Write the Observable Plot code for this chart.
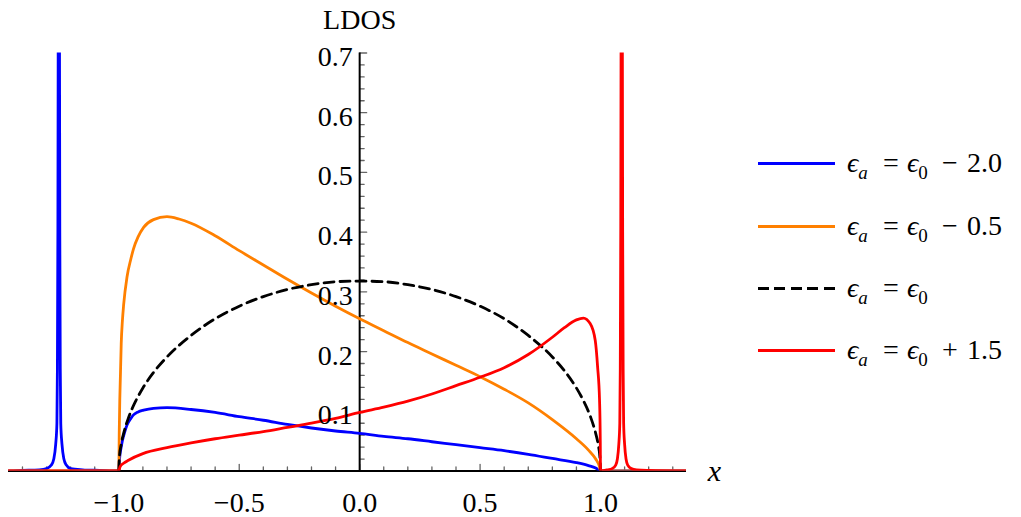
<!DOCTYPE html>
<html>
<head>
<meta charset="utf-8">
<script src="https://cdn.jsdelivr.net/npm/d3@7"></script>
<script src="https://cdn.jsdelivr.net/npm/@observablehq/plot@0.6"></script>
<style>
  html, body { margin: 0; padding: 0; background: white; }
  #wrap { position: relative; width: 1021px; height: 517px; }
  #legend { position: absolute; left: 0; top: 0; width: 1021px; height: 517px; pointer-events: none;
            font-family: "Liberation Serif", "DejaVu Serif", serif; font-size: 28px; color: black; }
  .row { position: absolute; left: 0; height: 30px; width: 1021px; white-space: nowrap; }
  .row > * { position: absolute; top: 0; line-height: 30px; }
  .swatch { left: 758px; top: 13.5px !important; width: 77px; height: 3px; }
  .row i { font-style: italic; }
  .row sub { font-size: 19px; vertical-align: -7px; line-height: 0; }
  svg text { font-family: "Liberation Serif", "DejaVu Serif", serif; }
</style>
</head>
<body>
<div id="wrap"><div id="chart"></div><div id="legend"></div></div>
<script>
// ---------- data ----------
const xDomain = [-1.458, 1.357];
const yDomain = [0, 0.7];

const xMajorTicks = [-1.0, -0.5, 0.0, 0.5, 1.0];
const xTickLabels = ["\u22121.0", "\u22120.5", "0.0", "0.5", "1.0"];
const xMinorTicks = [-1.4, -1.3, -1.2, -1.1, -0.9, -0.8, -0.7, -0.6, -0.4, -0.3, -0.2, -0.1,
                     0.1, 0.2, 0.3, 0.4, 0.6, 0.7, 0.8, 0.9, 1.1, 1.2, 1.3];
const yMajorTicks = [0.1, 0.2, 0.3, 0.4, 0.5, 0.6, 0.7];
const yTickLabels = ["0.1", "0.2", "0.3", "0.4", "0.5", "0.6", "0.7"];
const yMinorTicks = [0.02, 0.04, 0.06, 0.08, 0.12, 0.14, 0.16, 0.18, 0.22, 0.24, 0.26, 0.28,
                     0.32, 0.34, 0.36, 0.38, 0.42, 0.44, 0.46, 0.48, 0.52, 0.54, 0.56, 0.58,
                     0.62, 0.64, 0.66, 0.68];

// eps_a = eps_0 - 2.0 (blue)
const blueX = [-1.458, -1.40, -1.33, -1.30, -1.28, -1.27, -1.262, -1.257, -1.255, -1.253, -1.251, -1.249,
  -1.247, -1.245, -1.243, -1.241, -1.236, -1.228, -1.218, -1.20, -1.15, -1.08, -1.0,
  -0.998, -0.995, -0.99, -0.985, -0.975, -0.966, -0.95, -0.939, -0.92, -0.897, -0.856, -0.8,
  -0.7, -0.6, -0.5, -0.4, -0.3, -0.2, -0.1, 0.0, 0.1, 0.2, 0.3, 0.4, 0.5, 0.6, 0.7,
  0.8, 0.9, 0.95, 0.98, 1.0, 1.357];
const blueY = [0, 0.001, 0.002, 0.004, 0.010, 0.020, 0.045, 0.08, 0.17, 0.4, 0.9, 1.5,
  0.9, 0.4, 0.17, 0.08, 0.045, 0.020, 0.010, 0.004, 0.002, 0.001, 0,
  0.015, 0.028, 0.040, 0.051, 0.066, 0.077, 0.088, 0.094, 0.099, 0.102, 0.105, 0.106,
  0.103, 0.098, 0.091, 0.085, 0.078, 0.072, 0.067, 0.063, 0.058, 0.054, 0.049, 0.044, 0.039, 0.034, 0.028,
  0.021, 0.014, 0.009, 0.005, 0, 0];

// eps_a = eps_0 - 0.5 (orange)
const orangeX = [-1.458, -1.0, -0.998, -0.996, -0.993, -0.990, -0.985, -0.980, -0.966, -0.95, -0.939,
  -0.92, -0.897, -0.856, -0.80, -0.75, -0.7, -0.6, -0.5, -0.4, -0.3, -0.2, -0.1,
  0.0, 0.1, 0.2, 0.3, 0.4, 0.5, 0.6, 0.7, 0.8, 0.9, 0.95, 0.98, 0.995, 1.0, 1.357];
const orangeY = [0, 0, 0.07, 0.118, 0.165, 0.213, 0.252, 0.278, 0.325, 0.355, 0.372,
  0.392, 0.408, 0.421, 0.426, 0.422, 0.415, 0.394, 0.369, 0.345, 0.321, 0.298, 0.276,
  0.255, 0.235, 0.215, 0.196, 0.177, 0.158, 0.137, 0.114, 0.086, 0.054, 0.035, 0.020, 0.008, 0, 0];

// eps_a = eps_0 (black dashed)
const blackX = [-1.0, -0.998, -0.99, -0.98, -0.96, -0.93, -0.9, -0.85, -0.8, -0.7, -0.6, -0.5, -0.4,
  -0.3, -0.2, -0.1, 0.0, 0.1, 0.2, 0.3, 0.4, 0.5, 0.6, 0.7, 0.8, 0.85, 0.9, 0.93, 0.96, 0.98,
  0.99, 0.998, 1.0];
const blackY = [0, 0.020, 0.045, 0.063, 0.089, 0.117, 0.139, 0.168, 0.191, 0.227, 0.255, 0.276, 0.292,
  0.304, 0.312, 0.317, 0.318, 0.317, 0.312, 0.304, 0.292, 0.276, 0.255, 0.227, 0.191, 0.168, 0.139,
  0.117, 0.089, 0.063, 0.045, 0.020, 0];

// eps_a = eps_0 + 1.5 (red)
const redX = [-1.458, -1.0, -0.995, -0.98, -0.96, -0.9, -0.8, -0.7, -0.6, -0.5, -0.4,
  -0.3, -0.2, -0.1, 0.0, 0.1, 0.2, 0.3, 0.4, 0.5, 0.6, 0.7, 0.8, 0.85, 0.9, 0.929, 0.957,
  0.978, 0.988, 0.996, 0.999, 1.0, 1.03, 1.048, 1.063, 1.07, 1.076, 1.080, 1.082, 1.084, 1.086,
  1.088, 1.090, 1.092, 1.094, 1.096, 1.100, 1.106, 1.113, 1.128, 1.15, 1.2, 1.357];
const redY = [0, 0, 0.007, 0.013, 0.018, 0.029, 0.039, 0.047, 0.054, 0.060, 0.066,
  0.073, 0.080, 0.088, 0.098, 0.107, 0.117, 0.129, 0.143, 0.157, 0.173, 0.195, 0.224, 0.240, 0.253, 0.256, 0.247,
  0.219, 0.174, 0.118, 0.05, 0, 0.002, 0.004, 0.010, 0.020, 0.045, 0.08, 0.17, 0.4, 0.9,
  1.5, 0.9, 0.4, 0.17, 0.08, 0.045, 0.020, 0.010, 0.004, 0.002, 0.001, 0];

const legendOps = ["\u2212", "\u2212", "", "+"];
const legendNums = ["2.0", "0.5", "", "1.5"];
const seriesColors = ["#0000ff", "#ff8000", "#000000", "#ff0000"];

// ---------- build ----------
const rows = (xs, ys) => xs.map((x, i) => ({x, y: ys[i]}));
const series = [
  {data: rows(blueX, blueY), color: seriesColors[0], dash: null},
  {data: rows(orangeX, orangeY), color: seriesColors[1], dash: null},
  {data: rows(blackX, blackY), color: seriesColors[2], dash: "10,6"},
  {data: rows(redX, redY), color: seriesColors[3], dash: null}
];

const tickUp = {draw(context, l) { context.moveTo(0, 0); context.lineTo(0, -l); }};
const font = "'Liberation Serif', 'DejaVu Serif', serif";
const tickColor = "#666";
const fs = 28;

const chart = Plot.plot({
  width: 1021,
  height: 517,
  marginLeft: 8,
  marginRight: 335,
  marginTop: 52.5,
  marginBottom: 46.5,
  x: {domain: xDomain, axis: null},
  y: {domain: yDomain, axis: null},
  style: {fontFamily: font, fontSize: fs + "px", background: "white", color: "black", overflow: "visible"},
  marks: [
    Plot.vector(xMinorTicks, {x: d => d, y: 0, length: 4, rotate: 0, anchor: "start", shape: tickUp, stroke: tickColor, strokeWidth: 1.3}),
    Plot.vector(xMajorTicks, {x: d => d, y: 0, length: 6.5, rotate: 0, anchor: "start", shape: tickUp, stroke: tickColor, strokeWidth: 1.3}),
    Plot.vector(yMinorTicks, {x: 0, y: d => d, length: 4.5, rotate: 90, anchor: "start", shape: tickUp, stroke: tickColor, strokeWidth: 1.3}),
    Plot.vector(yMajorTicks, {x: 0, y: d => d, length: 7, rotate: 90, anchor: "start", shape: tickUp, stroke: tickColor, strokeWidth: 1.3}),
    Plot.ruleY([0], {stroke: "black", strokeWidth: 2}),
    Plot.ruleX([0], {stroke: "black", strokeWidth: 2}),
    ...series.map(s => Plot.line(s.data, {
      x: "x", y: "y", stroke: s.color, strokeWidth: 2.8, curve: "monotone-x",
      strokeDasharray: s.dash, clip: true, strokeLinejoin: "round"
    })),
    Plot.text(xMajorTicks, {x: d => d, y: 0, text: (d, i) => xTickLabels[i], dy: 32, fontSize: fs}),
    Plot.text(yMajorTicks, {x: 0, y: d => d, text: (d, i) => yTickLabels[i], dx: -7, dy: 4, textAnchor: "end", fontSize: fs}),
    Plot.text(["LDOS"], {x: 0, y: yDomain[1], text: d => d, dy: -33, fontSize: fs}),
    Plot.text(["x"], {x: xDomain[1], y: 0, text: d => d, dx: 28, fontSize: 30, fontStyle: "italic"})
  ]
});
document.getElementById("chart").appendChild(chart);

// legend
const legend = document.getElementById("legend");
const rowCenters = [163, 226, 288, 350];
legendOps.forEach((op, i) => {
  const row = document.createElement("div");
  row.className = "row";
  row.style.top = (rowCenters[i] - 15) + "px";
  const sw = document.createElement("div");
  sw.className = "swatch";
  if (i === 2) {
    sw.style.background = `repeating-linear-gradient(to right, ${seriesColors[i]} 0 11px, transparent 11px 16.5px)`;
  } else {
    sw.style.background = seriesColors[i];
  }
  row.appendChild(sw);
  const add = (html, left, center) => {
    const s = document.createElement("span");
    s.innerHTML = html;
    s.style.left = left + "px";
    if (center) s.style.transform = "translateX(-50%)";
    row.appendChild(s);
  };
  add(`<i>\u03f5</i><sub><i>a</i></sub>`, 847);
  add(`=`, 891, true);
  add(`<i>\u03f5</i><sub>0</sub>`, 907);
  if (op) {
    add(op, 950, true);
    add(legendNums[i], 967);
  }
  legend.appendChild(row);
});
</script>
</body>
</html>
